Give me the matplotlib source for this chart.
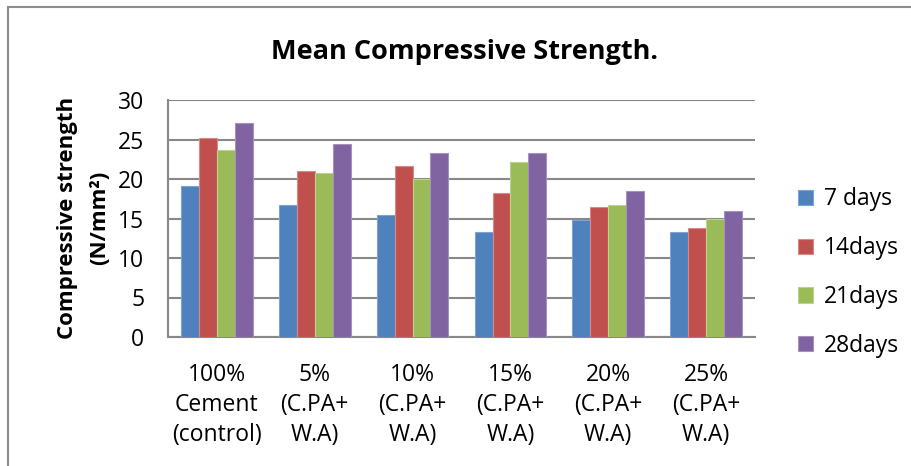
import matplotlib
matplotlib.use("Agg")
import matplotlib.pyplot as plt
import numpy as np
from matplotlib.patches import Rectangle

plt.rcParams['font.family'] = ['Open Sans', 'DejaVu Sans']

categories = ["100%\nCement\n(control)", "5%\n(C.PA+\nW.A)", "10%\n(C.PA+\nW.A)",
              "15%\n(C.PA+\nW.A)", "20%\n(C.PA+\nW.A)", "25%\n(C.PA+\nW.A)"]
series_names = ["7 days", "14days", "21days", "28days"]
days_7 = [19.1, 16.7, 15.5, 13.3, 14.8, 13.3]
days_14 = [25.2, 21.0, 21.6, 18.2, 16.4, 13.8]
days_21 = [23.7, 20.8, 20.0, 22.2, 16.7, 15.0]
days_28 = [27.1, 24.4, 23.3, 23.3, 18.5, 15.9]
colors = ["#4F81BD", "#C0504D", "#9BBB59", "#8064A2"]
edges = ["#7EA3D6", "#D98A88", "#BDD38F", "#A592C0"]

W, H = 912, 466
fig = plt.figure(figsize=(W / 100, H / 100), dpi=100)

# chart-area frame
fig.patches.append(Rectangle((8 / W, -0.1), 1.2, (H - 7) / H + 0.1, transform=fig.transFigure,
                             fill=False, edgecolor="#8C8C8C", linewidth=1.5))

ax = fig.add_axes([168 / W, (H - 337) / H, (755 - 168) / W, (337 - 100) / H])

x = np.arange(len(categories))
bw = 0.183
all_series = [days_7, days_14, days_21, days_28]
for i, (vals, name) in enumerate(zip(all_series, series_names)):
    ax.bar(x + (i - 1.5) * bw, vals, width=bw, color=colors[i], edgecolor=edges[i],
           linewidth=0.8, label=name, zorder=3)

ax.set_xlim(-0.5, len(categories) - 0.5)
ax.set_ylim(0, 30)
ax.set_yticks(range(0, 31, 5))
ax.yaxis.grid(True, color="#888888", linewidth=1.5, zorder=0)
ax.set_axisbelow(True)
for s in ["top", "right"]:
    ax.spines[s].set_visible(False)
for s in ["left", "bottom"]:
    ax.spines[s].set_color("#888888")
    ax.spines[s].set_linewidth(1.5)
ax.tick_params(axis="both", length=0, labelsize=16.5, colors="black")
ax.tick_params(axis="y", pad=17)
ax.tick_params(axis="x", pad=19)
ax.set_xticks(x)
ax.set_xticklabels(categories, linespacing=1.33, va="top")

fig.text(68 / W, (H - 218) / H, "Compressive strength", rotation=90, ha="center", va="center",
         fontsize=16, fontweight="bold")
fig.text(100 / W, (H - 218) / H, "(N/mm²)", rotation=90, ha="center", va="center",
         fontsize=16, fontweight="bold")

fig.text(465 / W, (H - 52) / H, "Mean Compressive Strength.", ha="center", va="center",
         fontsize=19.5, fontweight="bold")

leg = fig.legend(loc="upper left", bbox_to_anchor=(787 / W, (H - 176) / H), frameon=False,
                 fontsize=16.5, handlelength=0.65, handleheight=0.65, labelspacing=1.08,
                 handletextpad=0.45, borderpad=0)

fig.savefig("out.png", dpi=100)
